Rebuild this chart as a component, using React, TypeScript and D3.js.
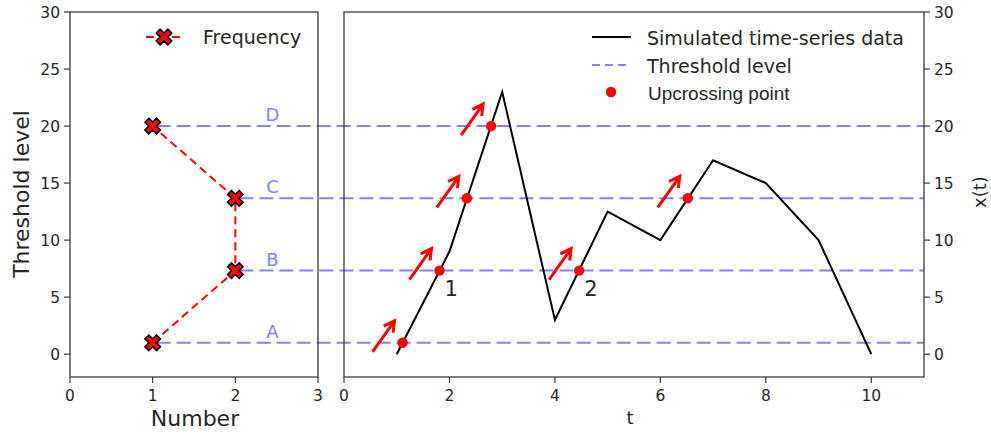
import React from 'react'
import * as d3 from 'd3'

// time series
const tValues = [1, 2, 3, 4, 5, 6, 7, 8, 9, 10]
const xValues = [0, 9, 23, 3, 12.5, 10, 17, 15, 10, 0]

// threshold levels A..D
const levelNames = ['A', 'B', 'C', 'D']
const levelValues = [1, 7.33, 13.67, 20]

// number of upcrossings per level
const freqValues = [1, 2, 2, 1]

// upcrossing points
const upT = [1.11, 1.81, 2.33, 2.79, 4.46, 6.52]
const upX = [1, 7.33, 13.67, 20, 7.33, 13.67]

// numbered labels for the upcrossings of level B
const numLabels = ['1', '2']
const numT = [1.81, 4.46]
const numX = [7.33, 7.33]

const leftTicksX = [0, 1, 2, 3]
const rightTicksX = [0, 2, 4, 6, 8, 10]
const ticksY = [0, 5, 10, 15, 20, 25, 30]

const FONT = 'DejaVu Sans, sans-serif'
const TXT = '#262626'
const SPINE = '#3a3a3a'
const BLUE = '#8080ff'
const RED = '#ff0000'

const xL = d3.scaleLinear().domain([0, 3]).range([70, 318])
const xR = d3.scaleLinear().domain([0, 11]).range([344, 924])
const y = d3.scaleLinear().domain([-2, 30]).range([377, 12])

const xMarker = d3.symbol(d3.symbolCross, 150)()

const Cross = ({ cx, cy }: { cx: number; cy: number }) => (
  <path
    d={xMarker || ''}
    transform={`translate(${cx},${cy}) rotate(45)`}
    fill={RED}
    stroke="#000"
    strokeWidth={1.6}
    strokeLinejoin="miter"
  />
)

const Arrow = ({ px, py }: { px: number; py: number }) => {
  const x0 = px - 30
  const y0 = py + 9
  const x1 = px - 8
  const y1 = py - 22
  const ang = Math.atan2(y1 - y0, x1 - x0)
  const hl = 12
  const a1 = ang + Math.PI - 0.5
  const a2 = ang + Math.PI + 0.5
  const d =
    `M${x0},${y0}L${x1},${y1}` +
    `M${x1 + hl * Math.cos(a1)},${y1 + hl * Math.sin(a1)}L${x1},${y1}L${x1 + hl * Math.cos(a2)},${y1 + hl * Math.sin(a2)}`
  return <path d={d} stroke={RED} strokeWidth={3} fill="none" strokeLinejoin="miter" />
}

const App = () => {
  const series = d3
    .line<number>()
    .x((_, i) => xR(tValues[i]))
    .y(d => y(d))(xValues)

  const freqLine = d3
    .line<number>()
    .x(d => xL(d))
    .y((_, i) => y(levelValues[i]))(freqValues)

  const [yTop, yBot] = [y(30), y(-2)]

  return (
    <svg
      width={991}
      height={437}
      style={{ position: 'absolute', left: 0, top: 0, background: '#fff' }}
      fontFamily={FONT}
    >
      {/* threshold lines, from each frequency marker across both panels */}
      {levelValues.map((v, i) => (
        <line
          key={'lv' + i}
          x1={xL(freqValues[i]) + 4}
          x2={xR(11)}
          y1={y(v)}
          y2={y(v)}
          stroke={BLUE}
          strokeWidth={2}
          strokeDasharray="14 6"
        />
      ))}
      {levelNames.map((n, i) => (
        <text
          key={'ln' + i}
          x={xL(2.45)}
          y={y(levelValues[i]) - 5}
          fill={BLUE}
          fontSize={18}
          textAnchor="middle"
        >
          {n}
        </text>
      ))}

      {/* left panel */}
      <path d={freqLine || ''} fill="none" stroke={RED} strokeWidth={2} strokeDasharray="8 5" />
      {freqValues.map((f, i) => (
        <Cross key={'fx' + i} cx={xL(f)} cy={y(levelValues[i])} />
      ))}
      <rect x={xL(0)} y={yTop} width={xL(3) - xL(0)} height={yBot - yTop} fill="none" stroke={SPINE} strokeWidth={1.3} />
      {ticksY.map(t => (
        <g key={'lyt' + t}>
          <line x1={xL(0) - 6} x2={xL(0)} y1={y(t)} y2={y(t)} stroke={SPINE} strokeWidth={1.2} />
          <text x={xL(0) - 10} y={y(t) + 5.5} textAnchor="end" fontSize={15.5} fill={TXT}>
            {t}
          </text>
        </g>
      ))}
      {leftTicksX.map(t => (
        <g key={'lxt' + t}>
          <line x1={xL(t)} x2={xL(t)} y1={yBot} y2={yBot + 6} stroke={SPINE} strokeWidth={1.2} />
          <text x={xL(t)} y={yBot + 24} textAnchor="middle" fontSize={15.5} fill={TXT}>
            {t}
          </text>
        </g>
      ))}
      <text x={195} y={426} textAnchor="middle" fontSize={22} fill={TXT}>
        Number
      </text>
      <text transform="translate(29,194) rotate(-90)" textAnchor="middle" fontSize={22} fill={TXT}>
        Threshold level
      </text>
      {/* left legend */}
      <line x1={146} x2={183} y1={37} y2={37} stroke={RED} strokeWidth={2} strokeDasharray="8 5" />
      <Cross cx={164} cy={37} />
      <text x={203} y={44} fontSize={19} fill={TXT}>
        Frequency
      </text>

      {/* right panel */}
      <path d={series || ''} fill="none" stroke="#000" strokeWidth={2} strokeLinejoin="miter" />
      {upT.map((t, i) => (
        <Arrow key={'ar' + i} px={xR(t)} py={y(upX[i])} />
      ))}
      {upT.map((t, i) => (
        <circle key={'up' + i} cx={xR(t)} cy={y(upX[i])} r={5.2} fill={RED} />
      ))}
      {numLabels.map((n, i) => (
        <text key={'nl' + i} x={xR(numT[i]) + 5} y={y(numX[i]) + 25} fontSize={21} fill={TXT}>
          {n}
        </text>
      ))}
      <rect x={xR(0)} y={yTop} width={xR(11) - xR(0)} height={yBot - yTop} fill="none" stroke={SPINE} strokeWidth={1.3} />
      {rightTicksX.map(t => (
        <g key={'rxt' + t}>
          <line x1={xR(t)} x2={xR(t)} y1={yBot} y2={yBot + 6} stroke={SPINE} strokeWidth={1.2} />
          <text x={xR(t)} y={yBot + 24} textAnchor="middle" fontSize={15.5} fill={TXT}>
            {t}
          </text>
        </g>
      ))}
      {ticksY.map(t => (
        <g key={'ryt' + t}>
          <line x1={xR(11)} x2={xR(11) + 6} y1={y(t)} y2={y(t)} stroke={SPINE} strokeWidth={1.2} />
          <text x={xR(11) + 10} y={y(t) + 5.5} textAnchor="start" fontSize={15.5} fill={TXT}>
            {t}
          </text>
        </g>
      ))}
      <text x={630} y={424} textAnchor="middle" fontSize={18} fill={TXT}>
        t
      </text>
      <text transform="translate(986,192) rotate(-90)" textAnchor="middle" fontSize={18} fill={TXT}>
        x(t)
      </text>
      {/* right legend */}
      <line x1={592} x2={631} y1={37} y2={37} stroke="#000" strokeWidth={2} />
      <text x={647} y={45} fontSize={19} fill={TXT}>
        Simulated time-series data
      </text>
      <line x1={592} x2={631} y1={65} y2={65} stroke={BLUE} strokeWidth={2} strokeDasharray="8 5" />
      <text x={647} y={73} fontSize={19} fill={TXT}>
        Threshold level
      </text>
      <circle cx={611} cy={92} r={5.2} fill={RED} />
      <text x={648} y={100} fontSize={19} fill={TXT} fontFamily="Liberation Sans, Arial, sans-serif">
        Upcrossing point
      </text>
    </svg>
  )
}

export default App
